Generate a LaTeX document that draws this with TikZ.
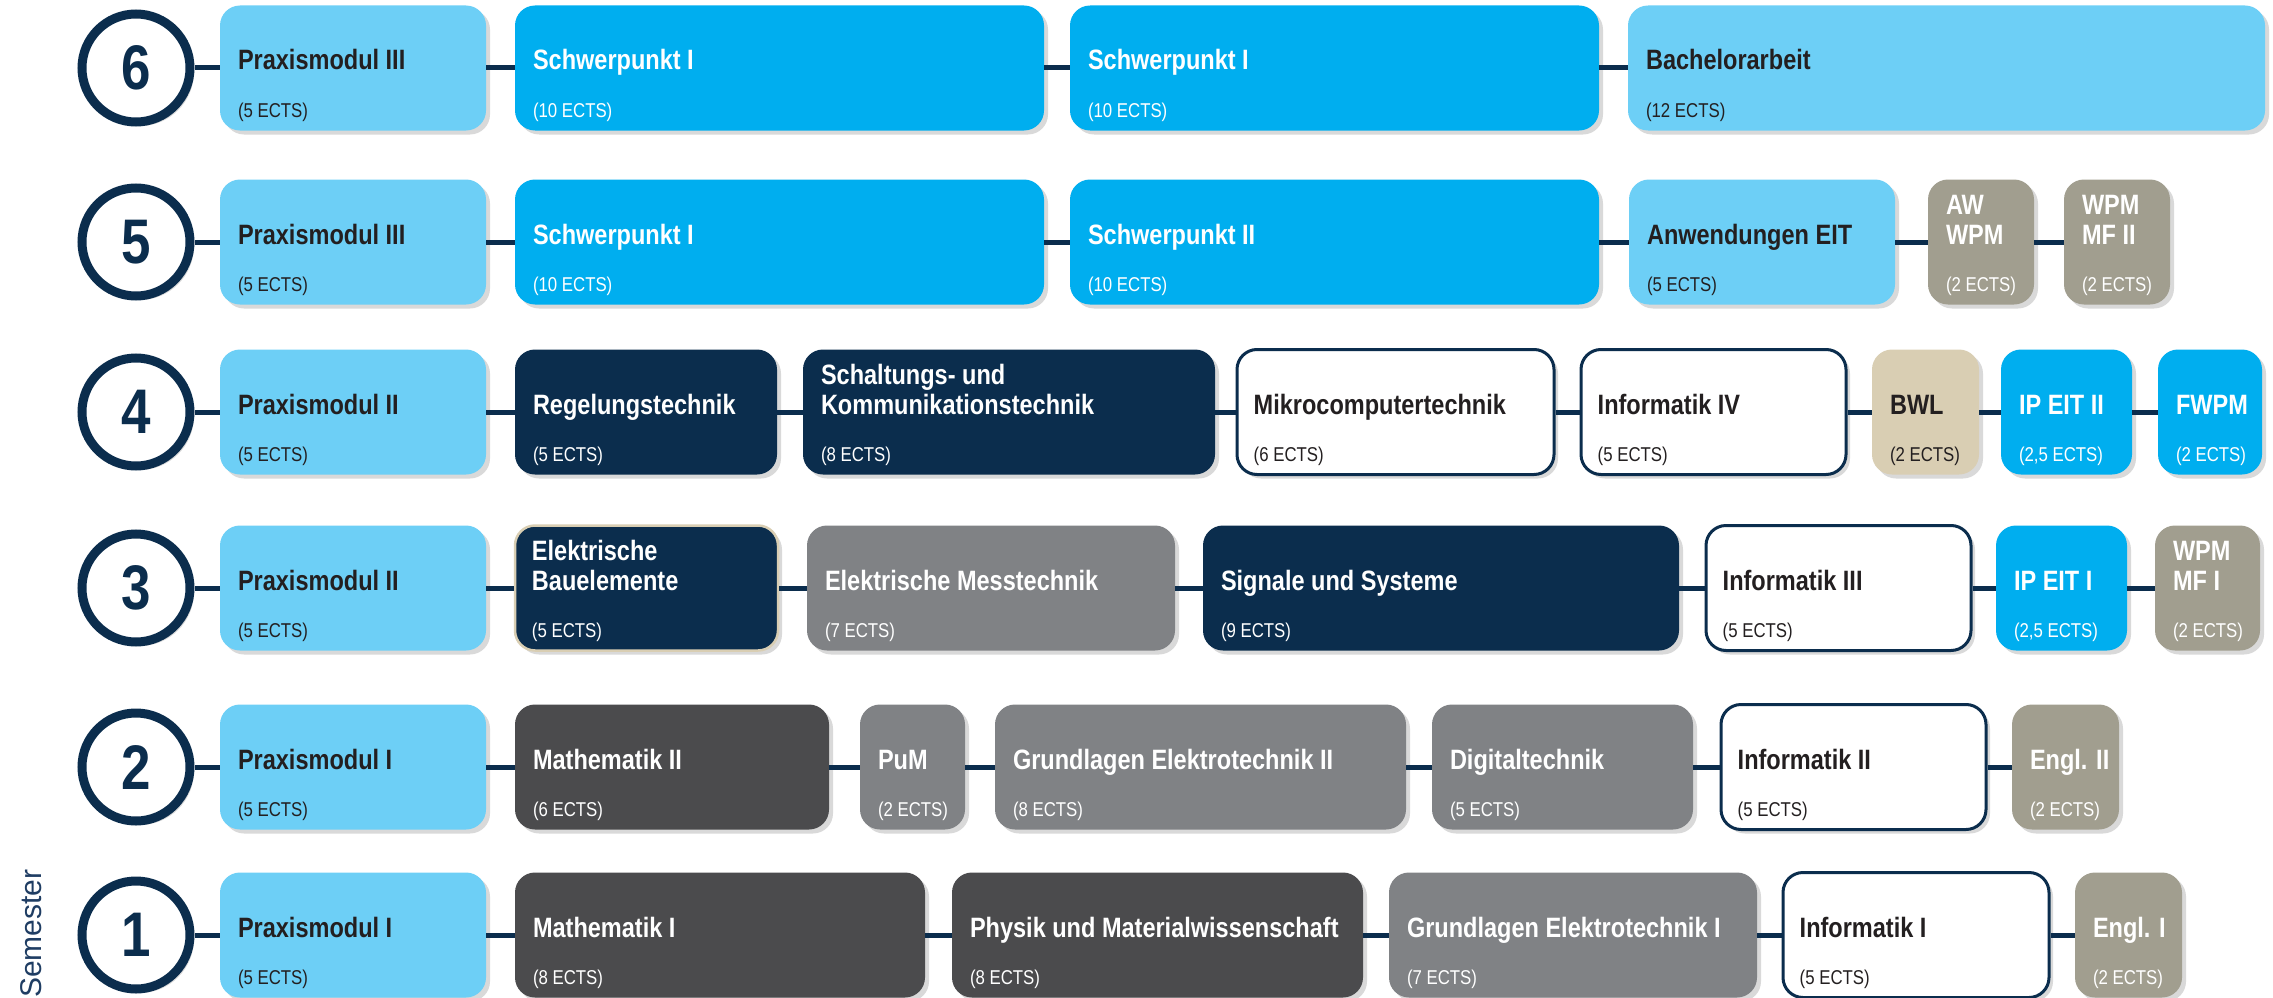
\documentclass[tikz,border=0pt]{standalone}
\usepackage{fontspec}
\setmainfont{Liberation Sans}[FakeStretch=0.84]
\newfontfamily\semfont{Liberation Sans}
\usetikzlibrary{shadows}

\definecolor{fhNavy}{HTML}{0B2D4D}
\definecolor{fhHell}{HTML}{6DCFF6}
\definecolor{fhBlau}{HTML}{00AEEF}
\definecolor{fhDunkel}{HTML}{4B4B4D}
\definecolor{fhGrau}{HTML}{808285}
\definecolor{fhTaupe}{HTML}{A19E8F}
\definecolor{fhBeige}{HTML}{D9CEB3}
\definecolor{fhInk}{HTML}{231F20}
\definecolor{fhSem}{HTML}{1F3D63}

\begin{document}
\begin{tikzpicture}[x=1pt, y=-1pt,
    schatten/.style={drop shadow={shadow xshift=4pt, shadow yshift=-4pt, fill=black!15, opacity=1}},
    box/.style={rectangle, rounded corners=20pt, minimum height=125pt, inner sep=0pt, schatten},
    hellbox/.style={fill=fhHell},
    blaubox/.style={fill=fhBlau},
    navybox/.style={fill=fhNavy},
    dunkelbox/.style={fill=fhDunkel},
    graubox/.style={fill=fhGrau},
    taupebox/.style={fill=fhTaupe},
    beigebox/.style={fill=fhBeige},
    weissbox/.style={fill=white, draw=fhNavy, line width=3pt},
    bauelbox/.style={fill=fhNavy, draw=fhBeige, line width=2.5pt},
    title/.style={inner sep=0pt, font=\fontsize{28}{30}\selectfont\bfseries},
    ects/.style={inner sep=0pt, font=\fontsize{20}{22}\selectfont},
    sem/.style={circle, draw=fhNavy, line width=9pt, fill=white, minimum size=108pt, inner sep=0pt,
      text=fhNavy, font=\fontsize{63}{63}\selectfont\bfseries, schatten},
    conn/.style={draw=fhNavy, line width=5pt}]
    \useasboundingbox (0,0) rectangle (2273,998);
    \def\zwei#1#2{\vbox{\hbox{#1}\hbox{#2}}}
    \def\modul#1#2#3#4#5#6#7{%
        \node[box, #4, minimum width={(#3-#2)*1pt}] (#1) at ({(#2+#3)/2}, \rowy) {};
        \node[title, text=#5, anchor=base west] (#1t) at ([xshift=18pt, yshift=-2pt]#1.west) {#6};
        \node[ects, text=#5, anchor=base west] (#1e) at ([xshift=18pt, yshift=-49pt]#1.west) {#7};
    }
    % label
    \node[font=\semfont\fontsize{30}{30}\selectfont, text=fhSem, rotate=90, anchor=base west, inner sep=0pt] (semester) at (41, 998) {Semester};
    % 6
    \def\rowy{68}
    \node[sem] (s6) at (136, \rowy) {6};
    \modul{m61}{220}{486}{hellbox}{fhInk}{Praxismodul III}{(5 ECTS)}
    \modul{m62}{515}{1044}{blaubox}{white}{Schwerpunkt I}{(10 ECTS)}
    \modul{m63}{1070}{1599}{blaubox}{white}{Schwerpunkt I}{(10 ECTS)}
    \modul{m64}{1628}{2265}{hellbox}{fhInk}{Bachelorarbeit}{(12 ECTS)}
    \draw[conn] (s6) -- (m61) -- (m62) -- (m63) -- (m64);
    % 5
    \def\rowy{242}
    \node[sem] (s5) at (136, \rowy) {5};
    \modul{m51}{220}{486}{hellbox}{fhInk}{Praxismodul III}{(5 ECTS)}
    \modul{m52}{515}{1044}{blaubox}{white}{Schwerpunkt I}{(10 ECTS)}
    \modul{m53}{1070}{1599}{blaubox}{white}{Schwerpunkt II}{(10 ECTS)}
    \modul{m54}{1629}{1895}{hellbox}{fhInk}{Anwendungen EIT}{(5 ECTS)}
    \modul{m55}{1928}{2034}{taupebox}{white}{\zwei{AW}{WPM}}{(2 ECTS)}
    \modul{m56}{2064}{2170}{taupebox}{white}{\zwei{WPM}{MF II}}{(2 ECTS)}
    \draw[conn] (s5) -- (m51) -- (m52) -- (m53) -- (m54) -- (m55) -- (m56);
    % 4
    \def\rowy{412}
    \node[sem] (s4) at (136, \rowy) {4};
    \modul{m41}{220}{486}{hellbox}{fhInk}{Praxismodul II}{(5 ECTS)}
    \modul{m42}{515}{777}{navybox}{white}{Regelungstechnik}{(5 ECTS)}
    \modul{m43}{803}{1215}{navybox}{white}{\zwei{Schaltungs- und}{Kommunikationstechnik}}{(8 ECTS)}
    \modul{m44}{1237}{1554}{weissbox}{fhInk}{Mikrocomputertechnik}{(6 ECTS)}
    \modul{m45}{1581}{1846}{weissbox}{fhInk}{Informatik IV}{(5 ECTS)}
    \modul{m46}{1872}{1979}{beigebox}{fhInk}{BWL}{(2 ECTS)}
    \modul{m47}{2001}{2132}{blaubox}{white}{IP EIT II}{(2,5 ECTS)}
    \modul{m48}{2158}{2262}{blaubox}{white}{FWPM}{(2 ECTS)}
    \draw[conn] (s4) -- (m41) -- (m42) -- (m43) -- (m44) -- (m45) -- (m46) -- (m47) -- (m48);
    % 3
    \def\rowy{588}
    \node[sem] (s3) at (136, \rowy) {3};
    \modul{m31}{220}{486}{hellbox}{fhInk}{Praxismodul II}{(5 ECTS)}
    \modul{m32}{515}{778}{bauelbox}{white}{\zwei{Elektrische}{Bauelemente}}{(5 ECTS)}
    \modul{m33}{807}{1175}{graubox}{white}{Elektrische Messtechnik}{(7 ECTS)}
    \modul{m34}{1203}{1679}{navybox}{white}{Signale und Systeme}{(9 ECTS)}
    \modul{m35}{1706}{1971}{weissbox}{fhInk}{Informatik III}{(5 ECTS)}
    \modul{m36}{1996}{2127}{blaubox}{white}{IP EIT I}{(2,5 ECTS)}
    \modul{m37}{2155}{2260}{taupebox}{white}{\zwei{WPM}{MF I}}{(2 ECTS)}
    \draw[conn] (s3) -- (m31) -- (m32) -- (m33) -- (m34) -- (m35) -- (m36) -- (m37);
    % 2
    \def\rowy{767}
    \node[sem] (s2) at (136, \rowy) {2};
    \modul{m21}{220}{486}{hellbox}{fhInk}{Praxismodul I}{(5 ECTS)}
    \modul{m22}{515}{829}{dunkelbox}{white}{Mathematik II}{(6 ECTS)}
    \modul{m23}{860}{965}{graubox}{white}{PuM}{(2 ECTS)}
    \modul{m24}{995}{1406}{graubox}{white}{Grundlagen Elektrotechnik II}{(8 ECTS)}
    \modul{m25}{1432}{1693}{graubox}{white}{Digitaltechnik}{(5 ECTS)}
    \modul{m26}{1721}{1986}{weissbox}{fhInk}{Informatik II}{(5 ECTS)}
    \modul{m27}{2012}{2119}{taupebox}{white}{Engl. II}{(2 ECTS)}
    \draw[conn] (s2) -- (m21) -- (m22) -- (m23) -- (m24) -- (m25) -- (m26) -- (m27);
    % 1
    \def\rowy{935}
    \node[sem] (s1) at (136, \rowy) {1};
    \modul{m11}{220}{486}{hellbox}{fhInk}{Praxismodul I}{(5 ECTS)}
    \modul{m12}{515}{925}{dunkelbox}{white}{Mathematik I}{(8 ECTS)}
    \modul{m13}{952}{1363}{dunkelbox}{white}{Physik und Materialwissenschaft}{(8 ECTS)}
    \modul{m14}{1389}{1757}{graubox}{white}{Grundlagen Elektrotechnik I}{(7 ECTS)}
    \modul{m15}{1783}{2049}{weissbox}{fhInk}{Informatik I}{(5 ECTS)}
    \modul{m16}{2075}{2182}{taupebox}{white}{Engl. I}{(2 ECTS)}
    \draw[conn] (s1) -- (m11) -- (m12) -- (m13) -- (m14) -- (m15) -- (m16);
\end{tikzpicture}
\end{document}
